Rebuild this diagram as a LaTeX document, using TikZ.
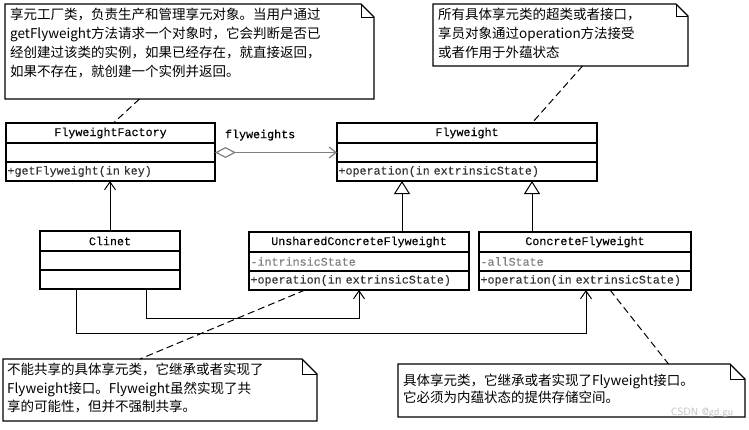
\documentclass[tikz,border=0pt]{standalone}
\usepackage{fontspec}
\newfontfamily\umlmono{Liberation Mono}[FakeBold=0.2]
\newfontfamily\cjk{Noto Sans CJK SC}
\usetikzlibrary{positioning,arrows.meta}

\newcommand\umlfont{\umlmono\fontsize{11.7}{14}\selectfont}
\newcommand\foldnote[2]{%
  \draw[line width=1.2pt] (#1.south west) -- (#1.north west) -- ([xshift=-#2pt]#1.north east)
    -- ([yshift=-#2pt]#1.north east) -- (#1.south east) -- cycle;
  \draw[line width=0.8pt] ([xshift=-#2pt]#1.north east) -- ([xshift=-#2pt,yshift=-#2pt]#1.north east)
    -- ([yshift=-#2pt]#1.north east);
}

\begin{document}
\begin{tikzpicture}[x=1pt,y=-1pt,
   hdr/.style={rectangle,draw,line width=1.1pt,minimum width=#1pt,
    minimum height=20pt,inner sep=0pt,outer sep=0pt,font=\umlfont},
   row/.style={rectangle,draw,line width=1.1pt,minimum width=#1pt,text width=#1pt-3pt,
    minimum height=19pt,inner xsep=1.5pt,inner ysep=0pt,outer sep=0pt,align=left,
    font=\umlfont,text=black!80},
   note/.style={rectangle,inner sep=0pt,outer sep=0pt,anchor=north west},
   notetext/.style={anchor=north west,align=left,inner sep=0pt},
   dep/.style={line width=1pt,-{Straight Barb[length=8pt,width=11pt]}},
   inh/.style={line width=1pt,-{Triangle[open,length=13pt,width=16pt,fill=white]}},
   agg/.style={draw=gray,line width=1.2pt,
    {Diamond[open,length=21pt,width=11pt,fill=white]}-{Straight Barb[length=7pt,width=11pt]}},
   link/.style={line width=1pt,dash pattern=on 7pt off 4pt}
    ]
  \useasboundingbox (0,0) rectangle (749,429);

  % -- classes
  \node[hdr=209] at (110.5,133) (fact) {FlyweightFactory};
  \node[row=209,below=0pt of fact] (factA) {};
  \node[row=209,below=0pt of factA] (factO) {+getFlyweight(in key)};

  \node[hdr=260] at (467,133) (fly) {Flyweight};
  \node[row=260,below=0pt of fly] (flyA) {};
  \node[row=260,below=0pt of flyA] (flyO) {+operation(in extrinsicState)};

  \node[hdr=140] at (110,241) (cli) {Clinet};
  \node[row=140,below=0pt of cli] (cliA) {};
  \node[row=140,below=0pt of cliA] (cliO) {};

  \node[hdr=220] at (359,242) (uns) {UnsharedConcreteFlyweight};
  \node[row=220,below=0pt of uns,text=gray] (unsA) {-intrinsicState};
  \node[row=220,below=0pt of unsA] (unsO) {+operation(in extrinsicState)};

  \node[hdr=212] at (585,242) (con) {ConcreteFlyweight};
  \node[row=212,below=0pt of con,text=gray] (conA) {-allState};
  \node[row=212,below=0pt of conA] (conO) {+operation(in extrinsicState)};

  % -- notes
  \node[note,minimum width=369pt,minimum height=95pt] at (5,4) (n1) {};
  \node[note,minimum width=255pt,minimum height=62pt] at (433,4) (n2) {};
  \node[note,minimum width=314pt,minimum height=62pt] at (3,359) (n3) {};
  \node[note,minimum width=347pt,minimum height=53pt] at (398,364) (n4) {};
  \foldnote{n1}{13}
  \foldnote{n2}{12}
  \foldnote{n3}{15}
  \foldnote{n4}{15}

  \node[notetext,font=\cjk\fontsize{13.5}{19}\selectfont] at ([shift={(5pt,-4pt)}]n1.north west) (n1t)
    {享元工厂类，负责生产和管理享元对象。当用户通过\\getFlyweight方法请求一个对象时，它会判断是否已\\经创建过该类的实例，如果已经存在，就直接返回，\\如果不存在，就创建一个实例并返回。};
  \node[notetext,font=\cjk\fontsize{13.5}{19}\selectfont] at ([shift={(5pt,-4pt)}]n2.north west) (n2t)
    {所有具体享元类的超类或者接口，\\享员对象通过operation方法接受\\或者作用于外蕴状态};
  \node[notetext,font=\cjk\fontsize{13.5}{18.5}\selectfont] at ([shift={(4pt,-4pt)}]n3.north west) (n3t)
    {不能共享的具体享元类，它继承或者实现了\\Flyweight接口。Flyweight虽然实现了共\\享的可能性，但并不强制共享。};
  \node[notetext,font=\cjk\fontsize{13.5}{17}\selectfont] at ([shift={(5pt,-10pt)}]n4.north west) (n4t)
    {具体享元类，它继承或者实现了Flyweight接口。\\它必须为内蕴状态的提供存储空间。};

  % -- relations
  \draw[agg] (factA.east) -- node[pos=0.37,above=8pt,font=\umlfont] (flyl) {flyweights} (flyA.west);
  \draw[dep] (cli.north) -- (cli.north |- factO.south);
  \draw[dep] ([xshift=36pt]cliO.south) -- ++(0,29) -| (unsO.south);
  \draw[dep] ([xshift=-34pt]cliO.south) -- ++(0,44) -| ([xshift=1pt]conO.south);
  \draw[inh] ([xshift=43pt]uns.north) -- ([xshift=43pt]uns.north |- flyO.south);
  \draw[inh] ([xshift=-53pt]con.north) -- ([xshift=-53pt]con.north |- flyO.south);

  % -- note links
  \draw[link] ([xshift=-50pt]n1.south) -- ([xshift=3pt]fact.north);
  \draw[link] ([xshift=22pt]n2.south) -- ([xshift=65pt]fly.north);
  \draw[link] ([xshift=-54pt]unsO.south) -- ([xshift=-20pt]n3.north);
  \draw[link] ([xshift=25pt]conO.south) -- ([xshift=97pt]n4.north);

  % -- watermark
  \node[font=\sffamily\fontsize{10.5}{12}\selectfont,text=gray!50] at (702,413) (wm) {CSDN @gd.gu};

\end{tikzpicture}
\end{document}
